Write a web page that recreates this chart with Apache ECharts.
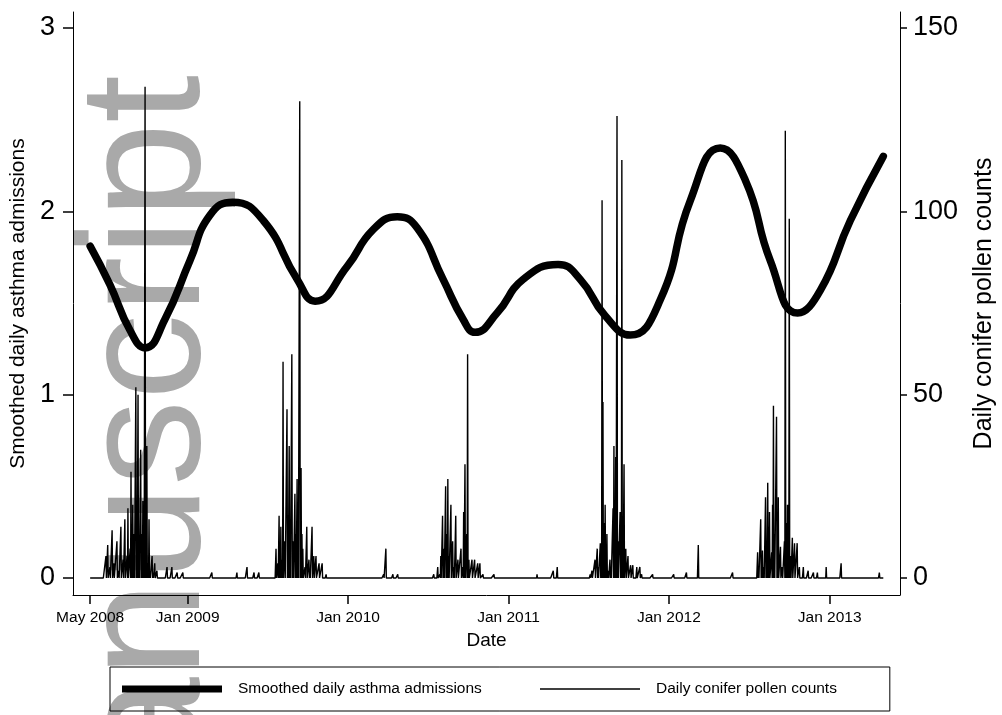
<!DOCTYPE html>
<html><head><meta charset="utf-8">
<script src="https://cdn.jsdelivr.net/npm/echarts@6/dist/echarts.min.js"></script>
<style>html,body{margin:0;padding:0;background:#fff}#c{width:1002px;height:715px}</style>
</head><body><div id="c"></div>
<script>
const FONT = '"Liberation Sans", Arial, Helvetica, sans-serif';

// Smoothed daily asthma admissions (left axis)
const asthmaDates = ['2008-05-24','2008-07-08','2008-08-23','2008-09-26','2008-11-10','2009-01-06','2009-02-21','2009-04-14',
  '2009-06-22','2009-09-07','2009-10-18','2009-12-30','2010-02-27','2010-04-23','2010-06-07','2010-08-05','2010-09-20',
  '2010-10-17','2010-12-06','2011-02-04','2011-04-24','2011-06-13','2011-08-09','2011-10-05','2011-12-13','2012-02-19',
  '2012-04-27','2012-06-23','2012-08-19','2012-10-20','2012-12-11','2013-02-17','2013-05-03'];
const asthmaValues = [1.81,1.60,1.35,1.255,1.41,1.73,1.98,2.05,
  1.95,1.63,1.51,1.70,1.90,1.97,1.91,1.63,1.41,
  1.34,1.445,1.63,1.71,1.63,1.43,1.325,1.52,2.06,
  2.345,2.17,1.73,1.445,1.57,1.95,2.30];

// Daily conifer pollen counts (right axis): record period, and days with non-zero counts (other days are 0)
const pollenStart = '2008-05-24';
const pollenEnd = '2013-05-03';
const pollenDates = [
  '2008-06-29','2008-07-03','2008-07-08','2008-07-13','2008-07-17','2008-07-24','2008-07-28','2008-08-02','2008-08-07','2008-08-11',
  '2008-08-16','2008-08-18','2008-08-23','2008-08-25','2008-08-27','2008-08-29','2008-09-01','2008-09-05','2008-09-07','2008-09-10',
  '2008-09-12','2008-09-16','2008-09-19','2008-09-21','2008-09-23','2008-09-26','2008-09-28','2008-09-30','2008-10-03','2008-10-05',
  '2008-10-07','2008-10-12','2008-10-14','2008-10-18','2008-10-23','2008-11-15','2008-11-26','2008-12-08','2008-12-21',
  '2009-02-25','2009-04-23','2009-05-16','2009-06-01','2009-06-12',
  '2009-07-21','2009-07-25','2009-07-28','2009-07-30','2009-08-01','2009-08-04','2009-08-06','2009-08-10','2009-08-15','2009-08-17',
  '2009-08-20','2009-08-22','2009-08-26','2009-08-29','2009-09-02','2009-09-04','2009-09-07','2009-09-09','2009-09-13','2009-09-16',
  '2009-09-18','2009-09-20','2009-09-25','2009-09-29','2009-10-04','2009-10-06','2009-10-11','2009-10-15','2009-10-20','2009-10-27',
  '2009-11-03','2009-11-12',
  '2010-03-23','2010-03-28','2010-04-13','2010-04-24','2010-07-15',
  '2010-07-24','2010-07-29','2010-07-31','2010-08-04','2010-08-07','2010-08-11','2010-08-14','2010-08-16','2010-08-18','2010-08-23',
  '2010-08-27','2010-08-30','2010-09-03','2010-09-08','2010-09-15','2010-09-19','2010-09-21','2010-09-24','2010-09-28','2010-09-30',
  '2010-10-03','2010-10-10','2010-10-16','2010-10-23','2010-10-28','2010-11-04','2010-11-29',
  '2011-03-07','2011-04-13','2011-04-22',
  '2011-07-06','2011-07-10','2011-07-17','2011-07-22','2011-07-24','2011-07-29','2011-07-31','2011-08-02','2011-08-04','2011-08-07',
  '2011-08-09','2011-08-11','2011-08-13','2011-08-16','2011-08-20','2011-08-22','2011-08-27','2011-08-29','2011-08-31','2011-09-02',
  '2011-09-05','2011-09-07','2011-09-12','2011-09-14','2011-09-16','2011-09-18','2011-09-21','2011-09-25','2011-09-30','2011-10-06',
  '2011-10-11','2011-10-20','2011-10-27','2011-10-31','2011-11-25',
  '2012-01-12','2012-02-10','2012-03-08','2012-05-25',
  '2012-07-21','2012-07-23','2012-07-28','2012-07-30','2012-08-01','2012-08-04','2012-08-08','2012-08-10','2012-08-13','2012-08-15',
  '2012-08-17','2012-08-22','2012-08-24','2012-08-26','2012-08-28','2012-09-02','2012-09-04','2012-09-06','2012-09-11','2012-09-15',
  '2012-09-20','2012-09-22','2012-09-25','2012-09-27','2012-09-29','2012-10-01','2012-10-04','2012-10-08','2012-10-13','2012-10-19',
  '2012-10-24','2012-11-02','2012-11-13','2012-11-25','2012-12-04','2012-12-24',
  '2013-01-27','2013-04-24'];
const pollenCounts = [
  6,9,3,13,4,10,2,14,5,16,
  6,19,8,29,10,20,12,52,20,50,
  8,35,12,21,5,134,8,36,4,16,
  2,6,1,4,2,3,3,1.5,1.5,
  1.5,1.5,3,1.5,1.5,
  8,4,17,6,14,5,59,10,46,12,
  36,8,61,10,23,12,27,15,130,30,
  12,8,3,14,5,2,14,6,6,4,
  4,1,
  1,8,1,1,1,
  3,1,6,17,8,25,12,27,6,20,
  10,3,17,5,8,3,18,31,12,61,
  5,5,5,4,4,1,1,
  1,2,3,
  1,2,5,8,3,9.5,4,103,48,15,
  20,4,12,2,5,1,19,36,8,33,
  126,10,18,6,114,12,31,8,6,3.5,
  3.5,3,3,1,1,
  1,1.5,9,1.5,
  7,2,16,4,7.5,3,22,10,26,14,
  18,7,20,47,12,44,15,22,8.5,3,
  10,122,15,20,8,98,6,11,9.5,9.5,
  3,3,2,1.5,1.5,3,
  4,1.5];

// Axes
const xMinDate = '2008-04-15';
const xMaxDate = '2013-06-10';
const xTickDates = ['2008-05-24','2009-01-01','2010-01-01','2011-01-01','2012-01-01','2013-01-01'];
const xTickLabels = ['May 2008','Jan 2009','Jan 2010','Jan 2011','Jan 2012','Jan 2013'];
const leftTicks = [0,1,2,3];
const rightTicks = [0,50,100,150];
const leftRange = [-0.0927, 3.0873];
const rightRange = [-4.636, 154.36];

const NAME_ASTHMA = 'Smoothed daily asthma admissions';
const NAME_POLLEN = 'Daily conifer pollen counts';

function toTime(s){ const p = s.split('-').map(Number); return new Date(p[0], p[1]-1, p[2]).getTime(); }
function key(d){ return d.getFullYear()+'-'+String(d.getMonth()+1).padStart(2,'0')+'-'+String(d.getDate()).padStart(2,'0'); }

const countByDay = {};
pollenDates.forEach((d,i)=>{ countByDay[d] = pollenCounts[i]; });
const pollenData = [];
{
  const s = pollenStart.split('-').map(Number);
  const endT = toTime(pollenEnd);
  for (let i = 0; ; i++) {
    const d = new Date(s[0], s[1]-1, s[2]+i);
    if (d.getTime() > endT) break;
    const k = key(d);
    pollenData.push([d.getTime(), countByDay[k] !== undefined ? countByDay[k] : 0]);
  }
}
const asthmaData = asthmaDates.map((d,i)=>[toTime(d), asthmaValues[i]]);
const xTickTimes = xTickDates.map(toTime);

const legendText = { fontFamily: FONT, fontSize: 15.5, color: '#000', padding: [0,0,0,11] };

const chart = echarts.init(document.getElementById('c'), null, {renderer:'canvas'});
chart.setOption({
  animation: false,
  backgroundColor: '#fff',
  grid: { left: 73, right: 102, top: 12, bottom: 120, containLabel: false, outerBoundsMode: 'none' },
  xAxis: {
    type: 'value', min: toTime(xMinDate), max: toTime(xMaxDate), scale: true,
    name: 'Date', nameLocation: 'middle', nameGap: 36,
    nameTextStyle: { fontFamily: FONT, fontSize: 19, color: '#000' },
    axisLine: { show: true, onZero: false, lineStyle: { color: '#000', width: 1 } },
    axisTick: { show: true, length: 9, customValues: xTickTimes, lineStyle: { color: '#000', width: 1.5 } },
    axisLabel: { customValues: xTickTimes, fontFamily: FONT, fontSize: 15.5, color: '#000', margin: 15,
      formatter: v => { const i = xTickTimes.indexOf(v); return i >= 0 ? xTickLabels[i] : ''; } },
    splitLine: { show: false }
  },
  yAxis: [{
    type: 'value', position: 'left', min: leftRange[0], max: leftRange[1],
    name: NAME_ASTHMA, nameLocation: 'middle', nameGap: 43, nameRotate: 90,
    nameTextStyle: { fontFamily: FONT, fontSize: 21, color: '#000' },
    axisLine: { show: true, onZero: false, lineStyle: { color: '#000', width: 1 } },
    axisTick: { show: true, length: 10, customValues: leftTicks, lineStyle: { color: '#000', width: 1.5 } },
    axisLabel: { customValues: leftTicks, fontFamily: FONT, fontSize: 27, color: '#000', margin: 18 },
    splitLine: { show: false }
  }, {
    type: 'value', position: 'right', min: rightRange[0], max: rightRange[1],
    name: NAME_POLLEN, nameLocation: 'middle', nameGap: 72, nameRotate: 90,
    nameTextStyle: { fontFamily: FONT, fontSize: 25, color: '#000' },
    axisLine: { show: true, onZero: false, lineStyle: { color: '#000', width: 1 } },
    axisTick: { show: true, length: 7, customValues: rightTicks, lineStyle: { color: '#000', width: 1.5 } },
    axisLabel: { customValues: rightTicks, fontFamily: FONT, fontSize: 27, color: '#000', margin: 13 },
    splitLine: { show: false }
  }],
  legend: [{
    left: 110, top: 667, orient: 'horizontal',
    padding: [14, 408, 14, 12],
    borderColor: '#000', borderWidth: 1, borderRadius: 0,
    itemWidth: 100, itemHeight: 7, icon: 'rect',
    textStyle: legendText,
    data: [NAME_ASTHMA]
  }, {
    left: 540, top: 681, orient: 'horizontal', padding: 0,
    itemWidth: 100, itemHeight: 1.3, icon: 'rect',
    textStyle: legendText,
    data: [NAME_POLLEN]
  }],
  graphic: [{
    type: 'text', x: 152, y: 75, rotation: Math.PI / 2, z: -1, silent: true,
    style: { text: 'anuscript', font: '172px "Liberation Sans"', fill: '#a9a9a9', align: 'right', verticalAlign: 'middle' }
  }],
  series: [{
    name: NAME_POLLEN, type: 'line', yAxisIndex: 1, data: pollenData,
    showSymbol: false, symbol: 'none', smooth: false, z: 2,
    lineStyle: { color: '#000', width: 1.4 }, itemStyle: { color: '#000' }
  }, {
    name: NAME_ASTHMA, type: 'line', yAxisIndex: 0, data: asthmaData,
    showSymbol: false, symbol: 'none', smooth: 0.5, z: 3,
    lineStyle: { color: '#000', width: 7.5, cap: 'round' }, itemStyle: { color: '#000' }
  }]
});
</script></body></html>
